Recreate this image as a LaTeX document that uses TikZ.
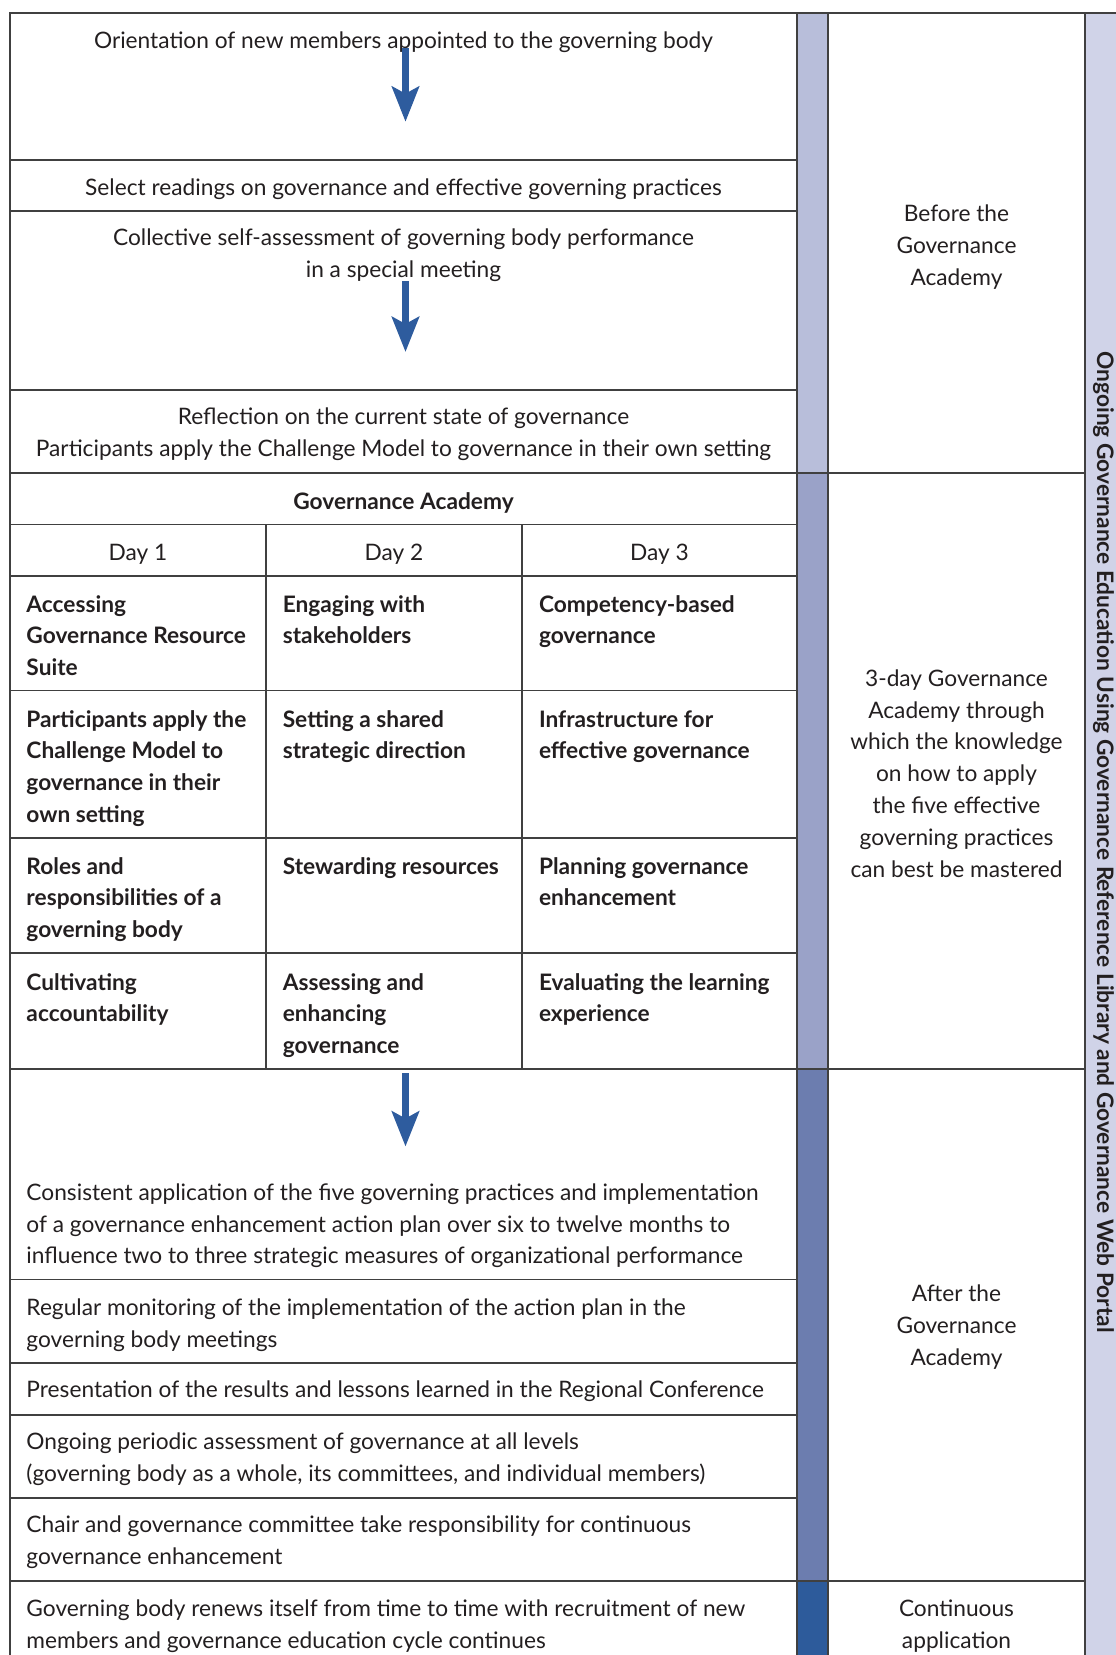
\documentclass[tikz,border=0pt]{standalone}
\usepackage{fontspec}
\setmainfont{Lato}
\usetikzlibrary{arrows.meta}

\definecolor{rulegrey}{HTML}{404040}
\definecolor{inkgrey}{HTML}{231F20}
\definecolor{barbefore}{HTML}{B8BEDA}
\definecolor{baracademy}{HTML}{9AA2C8}
\definecolor{barafter}{HTML}{6C7DAF}
\definecolor{barcont}{HTML}{2D5B9B}
\definecolor{stripfill}{HTML}{D0D3E8}
\definecolor{flowblue}{HTML}{2E5C9E}

\begin{document}
\begin{tikzpicture}[x=1pt,y=-1pt,
  rule/.style={rulegrey, line width=1.8pt},
  txt/.style={inner sep=0pt, text=inkgrey, font=\fontsize{22.7}{31.8}\selectfont},
  mid/.style={txt, align=center, anchor=base},
  lft/.style={txt, align=left, anchor=base west},
  cell/.style={lft, font=\fontsize{22.7}{31.8}\selectfont\bfseries},
  flow/.style={flowblue, line width=7pt, -{Stealth[length=35pt,width=27pt,inset=7pt]}}]
\useasboundingbox (0,0) rectangle (1116,1655);

% Bars
\fill[barbefore] (797,12.7) rectangle (828,473);
\fill[baracademy] (797,473) rectangle (828,1069);
\fill[barafter] (797,1069) rectangle (828,1581);
\fill[barcont] (797,1581) rectangle (828,1655);
\fill[stripfill] (1085,12.7) rectangle (1116,1655);

% Frame
\draw[rule] (1116,12.7) -- (10,12.7) -- (10,1655);
\foreach \x in {797,828,1085} \draw[rule] (\x,12.7) -- (\x,1655);
\foreach \y in {473,1069,1581} \draw[rule] (10,\y) -- (1085,\y);
\foreach \y in {159.6,210.7,390,524.5,575.9,690.5,837.6,953,1279.4,1362.8,1414.8,1497.6}
  \draw[rule] (10,\y) -- (797,\y);
\draw[rule] (266,524.5) -- (266,1069);
\draw[rule] (522,524.5) -- (522,1069);

% Before (nodes sit on the baseline of their last line)
\node[mid] (orient) at (403.5,48.3) {Orientation of new members appointed to the governing body};
\node[mid] (readings) at (403.5,195) {Select readings on governance and effective governing practices};
\node[mid] (selfassess) at (403.5,277) {Collective self-assessment of governing body performance\\in a special meeting};
\node[mid] (reflect) at (403.5,456.7) {Reflection on the current state of governance\\Participants apply the Challenge Model to governance in their own setting};

% Academy
\node[mid, font=\fontsize{22.7}{31.8}\selectfont\bfseries] (academy) at (403.5,509.4) {Governance Academy};
\node[mid] (day1) at (138,560.8) {Day 1};
\node[mid] (day2) at (394,560.8) {Day 2};
\node[mid] (day3) at (659.5,560.8) {Day 3};

\node[cell] (c11) at (26.3,675.6) {Accessing\\Governance Resource\\Suite};
\node[cell] (c12) at (282.6,643.8) {Engaging with\\stakeholders};
\node[cell] (c13) at (538.8,643.8) {Competency-based\\governance};
\node[cell] (c21) at (26.3,822.4) {Participants apply the\\Challenge Model to\\governance in their\\own setting};
\node[cell] (c22) at (282.6,758.8) {Setting a shared\\strategic direction};
\node[cell] (c23) at (538.8,758.8) {Infrastructure for\\effective governance};
\node[cell] (c31) at (26.3,937.6) {Roles and\\responsibilities of a\\governing body};
\node[cell] (c32) at (282.6,874) {Stewarding resources};
\node[cell] (c33) at (538.8,905.8) {Planning governance\\enhancement};
\node[cell] (c41) at (26.3,1021.8) {Cultivating\\accountability};
\node[cell] (c42) at (282.6,1053.6) {Assessing and\\enhancing\\governance};
\node[cell] (c43) at (538.8,1021.8) {Evaluating the learning\\experience};

% After
\node[lft] (consist) at (26.3,1263.8) {Consistent application of the five governing practices and implementation\\of a governance enhancement action plan over six to twelve months to\\influence two to three strategic measures of organizational performance};
\node[lft] (monitor) at (26.3,1347.3) {Regular monitoring of the implementation of the action plan in the\\governing body meetings};
\node[lft] (present) at (26.3,1397.8) {Presentation of the results and lessons learned in the Regional Conference};
\node[lft] (periodic) at (26.3,1481.3) {Ongoing periodic assessment of governance at all levels\\(governing body as a whole, its committees, and individual members)};
\node[lft] (chair) at (26.3,1564.7) {Chair and governance committee take responsibility for continuous\\governance enhancement};
\node[lft] (renew) at (26.3,1648.2) {Governing body renews itself from time to time with recruitment of new\\members and governance education cycle continues};

% Phase labels
\node[mid] (before) at (956.5,285) {Before the\\Governance\\Academy};
\node[mid] (during) at (956.5,877) {3-day Governance\\Academy through\\which the knowledge\\on how to apply\\the five effective\\governing practices\\can best be mastered};
\node[mid] (after) at (956.5,1365.5) {After the\\Governance\\Academy};
\node[mid] (continuous) at (956.5,1648) {Continuous\\application};
\node[txt, anchor=base, rotate=-90, font=\fontsize{22.7}{31.8}\selectfont\bfseries] (ongoing) at (1097,842)
  {Ongoing Governance Education Using Governance Reference Library and Governance Web Portal};

% Arrows
\coordinate (a1) at (405.5,121.7);
\coordinate (a2) at (405.5,352);
\coordinate (s3) at (405.5,1073.3);
\coordinate (a3) at (405.5,1146.5);
\draw[flow] (orient.base -| a1) -- (a1);
\draw[flow] (selfassess.south -| a2) -- (a2);
\draw[flow] (s3) -- (a3);
\end{tikzpicture}
\end{document}
